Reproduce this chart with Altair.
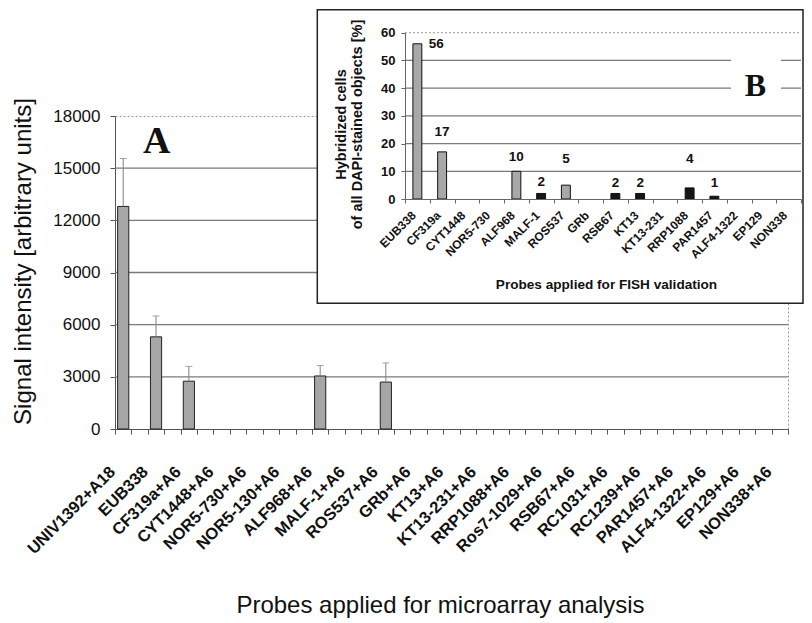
import altair as alt
import pandas as pd

# ---------------- data: microarray (panel A) ----------------
probes_main = ["UNIV1392+A18", "EUB338", "CF319a+A6", "CYT1448+A6", "NOR5-730+A6",
               "NOR5-130+A6", "ALF968+A6", "MALF-1+A6", "ROS537+A6", "GRb+A6",
               "KT13+A6", "KT13-231+A6", "RRP1088+A6", "Ros7-1029+A6", "RSB67+A6",
               "RC1031+A6", "RC1239+A6", "PAR1457+A6", "ALF4-1322+A6", "EP129+A6",
               "NON338+A6"]
signal = [12800, 5300, 2750, 0, 0, 0, 3050, 0, 2700, 0,
          0, 0, 0, 0, 0, 0, 0, 0, 0, 0, 0]
signal_err = [2750, 1200, 850, 0, 0, 0, 600, 0, 1100, 0,
              0, 0, 0, 0, 0, 0, 0, 0, 0, 0, 0]
main_ticks = [0, 3000, 6000, 9000, 12000, 15000, 18000]
main_grid = [3000, 6000, 9000, 12000, 15000]

# ---------------- data: FISH (panel B) ----------------
probes_fish = ["EUB338", "CF319a", "CYT1448", "NOR5-730", "ALF968", "MALF-1",
               "ROS537", "GRb", "RSB67", "KT13", "KT13-231", "RRP1088",
               "PAR1457", "ALF4-1322", "EP129", "NON338"]
fish_pct = [56, 17, 0, 0, 10, 2, 5, 0, 2, 2, 0, 4, 1, 0, 0, 0]
fish_group = ["g", "g", "g", "g", "g", "k", "g", "g", "k", "k", "g", "k", "k", "g", "g", "g"]
fish_label_y = [55.8, 24.1, None, None, 15.3, 6.1, 14.4, None, 5.7, 5.7, None, 14.3, 5.7,
                None, None, None]
fish_ticks = [0, 10, 20, 30, 40, 50, 60]
fish_grid = [10, 20, 30, 40, 50]

# main domain: every probe followed by an empty slot (as in the original axis)
domain_main = []
for i, p in enumerate(probes_main):
    domain_main.append(p)
    if i < len(probes_main) - 1:
        domain_main.append(" " * (i + 1))

df_main = pd.DataFrame({"probe": probes_main, "signal": signal, "err": signal_err})
df_main["top"] = df_main["signal"] + df_main["err"]
df_main = df_main[df_main["signal"] > 0]

df_fish = pd.DataFrame({"probe": probes_fish, "pct": fish_pct, "grp": fish_group,
                        "ly": fish_label_y})
df_fish_bars = df_fish[df_fish["pct"] > 0]
df_lab = df_fish[df_fish["ly"].notna()].copy()
df_lab["txt"] = df_lab["pct"].astype(int).astype(str)
df_lab_first = df_lab[df_lab["probe"] == "EUB338"]
df_lab_rest = df_lab[df_lab["probe"] != "EUB338"]

FONT = "Liberation Sans"
W, H = 673, 313

# ---------------- panel A ----------------
x_main_scale = alt.Scale(domain=domain_main, paddingInner=0, paddingOuter=0)
x_main_axis = alt.Axis(orient="bottom", title="Probes applied for microarray analysis",
                       labelAngle=315, labelAlign="right", labelBaseline="middle",
                       labelFontSize=16.5, labelFontWeight="bold", labelColor="#111",
                       labelPadding=35, labelOffset=-11, labelOverlap=False,
                       tickBand="extent", tickSize=5, tickColor="#555",
                       domainColor="#555", grid=False,
                       titleX=325, titleY=176, titleBaseline="middle", titleAlign="center",
                       titleFontSize=24, titleFontWeight="normal", titleColor="#111")
y_main_scale = alt.Scale(domain=[0, 18000])
y_main_axis = alt.Axis(orient="left", values=main_ticks, format="d",
                       title="Signal intensity [arbitrary units]",
                       titleAngle=270, titleX=-92, titleY=145, titleBaseline="middle",
                       titleAlign="center", titleFontSize=24, titleFontWeight="normal",
                       titleColor="#111",
                       labelFontSize=17, labelColor="#111", labelPadding=10,
                       tickSize=5, tickColor="#555", domainColor="#555", grid=False)

grid_a = alt.Chart(pd.DataFrame({"g": main_grid})).mark_rule(
    color="#7a7a7a", strokeWidth=1.3).encode(
    y=alt.Y("g:Q", scale=y_main_scale, axis=y_main_axis))

bars_a = alt.Chart(df_main).mark_bar(width={"band": 0.68}, fill="#a6a6a6",
                                     stroke="#222", strokeWidth=1).encode(
    x=alt.X("probe:N", scale=x_main_scale, sort=domain_main, axis=x_main_axis),
    y=alt.Y("signal:Q", scale=y_main_scale, axis=y_main_axis))

err_a = alt.Chart(df_main).mark_rule(color="#808080", strokeWidth=1).encode(
    x=alt.X("probe:N", scale=x_main_scale, sort=domain_main, axis=x_main_axis),
    y=alt.Y("signal:Q", scale=y_main_scale, axis=y_main_axis),
    y2="top:Q")

cap_a = alt.Chart(df_main).mark_tick(color="#808080", size=7, thickness=1).encode(
    x=alt.X("probe:N", scale=x_main_scale, sort=domain_main, axis=x_main_axis),
    y=alt.Y("top:Q", scale=y_main_scale, axis=y_main_axis))

letter_a = alt.Chart(pd.DataFrame({"t": ["A"]})).mark_text(
    font="Liberation Serif", fontSize=38, fontWeight="bold", color="#111",
    align="center", baseline="alphabetic").encode(
    text="t:N", x=alt.value(41.7), y=alt.value(37.3))

panel_a = alt.layer(grid_a, bars_a, err_a, cap_a, letter_a)

# ---------------- panel B (inset) ----------------
x_fish_scale = alt.Scale(domain=probes_fish, range=[290, 686], paddingInner=0, paddingOuter=0)
x_fish_axis = alt.Axis(orient="bottom", offset=-230, zindex=1,
                       title="Probes applied for FISH validation",
                       labelAngle=315, labelAlign="right", labelBaseline="middle",
                       labelFontSize=12, labelFontWeight="bold", labelColor="#111",
                       labelPadding=10, labelOffset=-4, labelOverlap=False,
                       tickBand="extent", tickSize=4, tickColor="#666",
                       domainColor="#666", grid=False,
                       titleX=491, titleY=85, titleBaseline="middle", titleAlign="center",
                       titleFontSize=13.6, titleFontWeight="bold", titleColor="#111")
y_fish_scale = alt.Scale(domain=[0, 60], range=[83, -83.3])
y_fish_axis = alt.Axis(orient="left", offset=-290, zindex=1, values=fish_ticks,
                       title=["Hybridized cells", "of all DAPI-stained objects [%]"],
                       titleAngle=270, titleX=-64, titleY=8, titleBaseline="middle",
                       titleAlign="center", titleFontSize=14.5, titleFontWeight="bold",
                       titleLineHeight=16.6, titleColor="#111",
                       labelFontSize=13, labelFontWeight="bold", labelColor="#111",
                       labelPadding=6, tickSize=4, tickColor="#666",
                       domainColor="#666", grid=False)

one = pd.DataFrame({"a": [1]})
box_b = alt.Chart(one).mark_rect(fill="white", stroke="#222", strokeWidth=1.5).encode(
    x=alt.value(202.3), x2=alt.value(688), y=alt.value(-106.3), y2=alt.value(187.3))

grid_b = alt.Chart(pd.DataFrame({"g": fish_grid})).mark_rule(
    color="#7a7a7a", strokeWidth=1.2).encode(
    y=alt.Y("g:Q", scale=y_fish_scale, axis=y_fish_axis),
    x=alt.value(290), x2=alt.value(686))

top_b = alt.Chart(pd.DataFrame({"g": [60]})).mark_rule(
    color="#9a9a9a", strokeWidth=1, strokeDash=[2, 2]).encode(
    y=alt.Y("g:Q", scale=y_fish_scale, axis=y_fish_axis),
    x=alt.value(290), x2=alt.value(686))

bars_b = alt.Chart(df_fish_bars).mark_bar(width={"band": 0.36}, stroke="#111",
                                          strokeWidth=1).encode(
    x=alt.X("probe:N", scale=x_fish_scale, sort=probes_fish, axis=x_fish_axis),
    y=alt.Y("pct:Q", scale=y_fish_scale, axis=y_fish_axis),
    fill=alt.Fill("grp:N", scale=alt.Scale(domain=["g", "k"], range=["#a8a8a8", "#161616"]),
                  legend=None))

lab_first = alt.Chart(df_lab_first).mark_text(
    fontSize=13.5, fontWeight="bold", color="#111", align="center", baseline="middle",
    dx=19).encode(
    x=alt.X("probe:N", scale=x_fish_scale, sort=probes_fish, axis=x_fish_axis),
    y=alt.Y("ly:Q", scale=y_fish_scale, axis=y_fish_axis),
    text="txt:N")

lab_rest = alt.Chart(df_lab_rest).mark_text(
    fontSize=13.5, fontWeight="bold", color="#111", align="center", baseline="middle").encode(
    x=alt.X("probe:N", scale=x_fish_scale, sort=probes_fish, axis=x_fish_axis),
    y=alt.Y("ly:Q", scale=y_fish_scale, axis=y_fish_axis),
    text="txt:N")

b_bg = alt.Chart(one).mark_rect(fill="white").encode(
    x=alt.value(616), x2=alt.value(666), y=alt.value(-66), y2=alt.value(-16))

letter_b = alt.Chart(pd.DataFrame({"t": ["B"]})).mark_text(
    font="Liberation Serif", fontSize=32, fontWeight="bold", color="#111",
    align="center", baseline="alphabetic").encode(
    text="t:N", x=alt.value(640.5), y=alt.value(-20))

panel_b = alt.layer(box_b, grid_b, top_b, bars_b, lab_first, lab_rest, b_bg, letter_b)

chart = alt.layer(panel_a, panel_b).resolve_scale(
    x="independent", y="independent", fill="independent"
).resolve_axis(x="independent", y="independent").properties(
    width=W, height=H,
    autosize=alt.AutoSizeParams(type="none"),
    padding={"left": 107, "top": 108, "right": 16, "bottom": 190},
).configure_view(
    stroke="#9a9a9a", strokeDash=[2, 2], strokeWidth=1
).configure_axis(
    labelFont=FONT, titleFont=FONT
).configure_text(font=FONT)

chart.save("out.html", embed_options={"renderer": "svg", "actions": False})
